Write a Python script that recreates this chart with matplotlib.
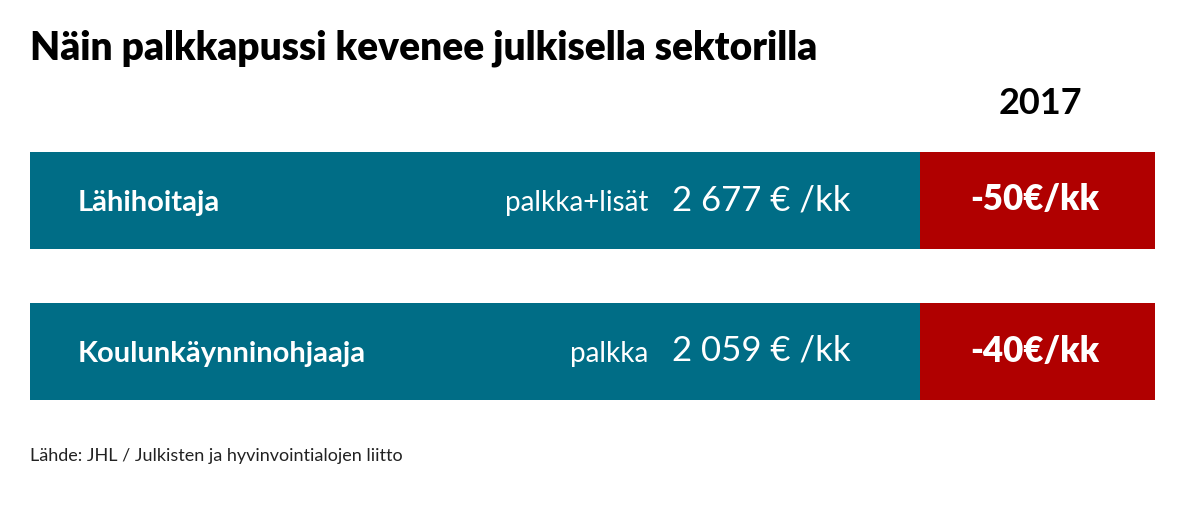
import matplotlib
matplotlib.use("Agg")
import matplotlib.pyplot as plt

title = "Näin palkkapussi kevenee julkisella sektorilla"
year = "2017"
categories = ["Lähihoitaja", "Koulunkäynninohjaaja"]
pay_labels = ["palkka+lisät", "palkka"]
pay_values = ["2 677 € /kk", "2 059 € /kk"]
cuts = ["-50€/kk", "-40€/kk"]
source = "Lähde: JHL / Julkisten ja hyvinvointialojen liitto"

TEAL = "#006d86"
RED = "#b00000"

fig = plt.figure(figsize=(11.98, 5.07), dpi=100)
ax = fig.add_axes([0, 0, 1, 1])
ax.set_xlim(0, 1198)
ax.set_ylim(507, 0)
ax.axis("off")

ys = [200, 351]
h = 97
ax.barh(ys, [890] * 2, left=30, height=h, color=TEAL)
ax.barh(ys, [235] * 2, left=920, height=h, color=RED)

fam = ["Lato", "DejaVu Sans"]
ax.text(30, 48, title, fontsize=28, fontweight="heavy", family=fam, va="center", ha="left")
ax.text(1040, 104, year, fontsize=26, fontweight="bold", family=fam, va="center", ha="center")
for y, c, pl, pv, cut in zip(ys, categories, pay_labels, pay_values, cuts):
    ax.text(78, y + 3, c, fontsize=21, fontweight="bold", family=fam, color="white", va="center")
    ax.text(648, y + 3, pl, fontsize=20, family=fam, color="white", va="center", ha="right")
    ax.text(672, y, pv, fontsize=25, family=fam, color="white", va="center", ha="left")
    ax.text(1035, y, cut, fontsize=25, fontweight="heavy", family=fam, color="white", va="center", ha="center")
ax.text(30, 456, source, fontsize=13, family=fam, va="center", ha="left", color="#222222")

fig.savefig("out.png", dpi=100)
